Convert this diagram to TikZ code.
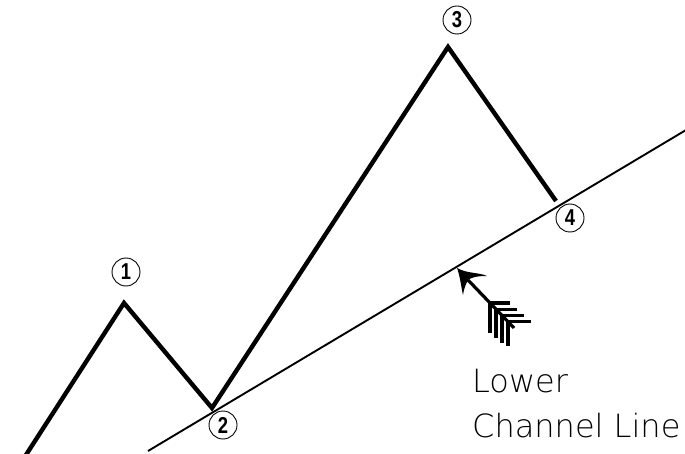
\documentclass[tikz,border=0pt]{standalone}
\usepackage{fontspec}
\usepackage{tikz}
\usetikzlibrary{arrows.meta,calc}
\newfontfamily\numfont{Liberation Sans}[FakeStretch=0.8]
\newfontfamily\lblfont{DejaVu Sans}[UprightFont={* ExtraLight}]

\begin{document}
\begin{tikzpicture}[x=1pt, y=-1pt,
        wave/.style={line width=4.4pt, line join=miter},
        chan/.style={line width=1.9pt},
        fletch/.style={line width=3.4pt},
        pnum/.style={draw, circle, line width=0.9pt, inner sep=0pt, minimum size=28pt, font=\numfont\bfseries\fontsize{23}{23}\selectfont},
        lbltext/.style={anchor=base west, inner sep=0pt, font=\lblfont\fontsize{32}{32}\selectfont}]
        \useasboundingbox (0,0) rectangle (685,454);
        \coordinate (p0) at (24,458);
        \coordinate (pk1) at (124,303);
        \coordinate (tr2) at (212,408);
        \coordinate (pk3) at (448,47);
        \coordinate (pt4) at (556,201);
        \coordinate (c0) at (148,451);
        \coordinate (c1) at (686,130);
        \node[pnum] (n1) at (126,272) {1};
        \node[pnum] (n2) at (223,425) {2};
        \node[pnum] (n3) at (457,20) {3};
        \node[pnum] (n4) at (570,218) {4};
        \draw[chan] (c0) -- (c1);
        \draw[wave] (p0) -- (pk1) -- (tr2) -- (pk3) -- (pt4);
        % arrow
        \coordinate (atail) at (514,328);
        \coordinate (anotch) at (468,280);
        \coordinate (atip) at (457,268);
        \draw[line width=3.2pt] (atail) -- (anotch);
        \fill (atip) .. controls (468,274) and (478,272) .. (487,276)
            .. controls (478,276) and (472,277) .. (anotch)
            .. controls (466,284) and (464,288) .. (463,295)
            .. controls (461,286) and (460,276) .. (atip);
        \foreach \t/\h/\v in {0.48/20/30,0.61/21/29,0.74/22/27,0.87/23/24} {
            \draw[fletch] ($(anotch)!\t!(atail)$) coordinate (f) -- ++(\h,0);
            \draw[fletch] (f) -- ++(0,\v);
        }
        \node[lbltext] (lbl1) at (472,392) {Lower};
        \node[lbltext] (lbl2) at (472,437) {Channel Line};
    \end{tikzpicture}
\end{document}
